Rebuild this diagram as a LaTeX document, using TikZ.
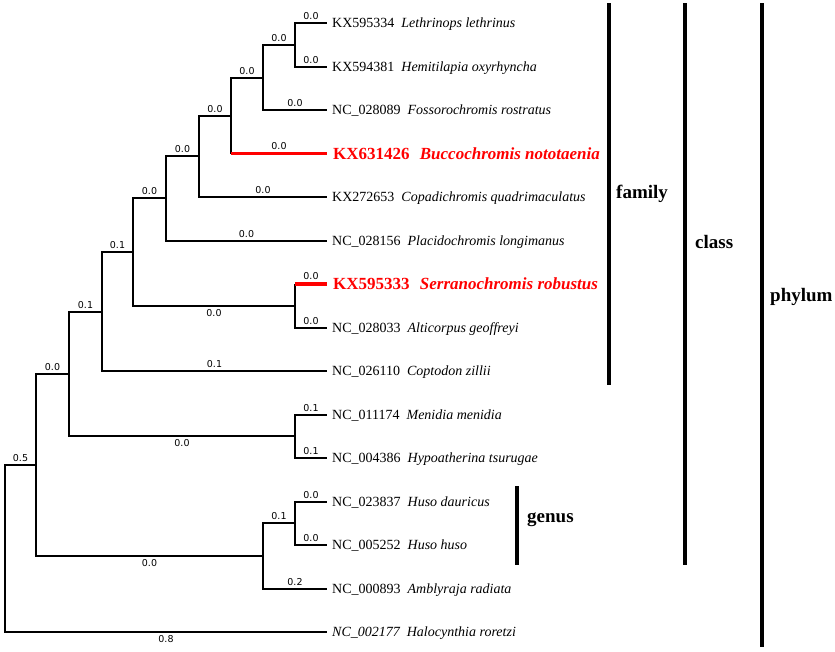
\documentclass[tikz,border=0pt]{standalone}
\usepackage{fontspec}
\setmainfont{Liberation Serif}
\newfontfamily\lenfont{DejaVu Sans}
\usepackage{tikz}

\begin{document}
\begin{tikzpicture}[x=1pt,y=-1pt,
	branch/.style={line width=2pt},
	hot/.style={line width=3.8pt,red},
	tip/.style={anchor=west,inner xsep=5pt,inner ysep=0pt,font=\fontsize{14}{16}\selectfont,text height=9.3pt,text depth=0pt},
	hottip/.style={tip,inner xsep=6pt,text=red,font=\fontsize{17}{20}\selectfont\bfseries,text height=11.3pt},
	len/.style={font=\lenfont\fontsize{9.5}{11}\selectfont,inner sep=2pt},
	bar/.style={line width=3.8pt},
	rank/.style={anchor=west,inner sep=0pt,font=\fontsize{19}{22}\selectfont\bfseries}]
	\useasboundingbox (0,0) rectangle (835,651);

	% tips
	\node[tip] (t_1) at (327,23) {KX595334\hspace{.5em}\textit{Lethrinops lethrinus}};
	\node[tip] (t_2) at (327,67) {KX594381\hspace{.5em}\textit{Hemitilapia oxyrhyncha}};
	\node[tip] (t_3) at (327,110) {NC\_028089\hspace{.5em}\textit{Fossorochromis rostratus}};
	\node[hottip] (t_4) at (327,153.5) {KX631426\hspace{.6em}\textit{Buccochromis nototaenia}};
	\node[tip] (t_5) at (327,197) {KX272653\hspace{.5em}\textit{Copadichromis quadrimaculatus}};
	\node[tip] (t_6) at (327,240.5) {NC\_028156\hspace{.5em}\textit{Placidochromis longimanus}};
	\node[hottip] (t_7) at (327,284) {KX595333\hspace{.6em}\textit{Serranochromis robustus}};
	\node[tip] (t_8) at (327,327.5) {NC\_028033\hspace{.5em}\textit{Alticorpus geoffreyi}};
	\node[tip] (t_9) at (327,371) {NC\_026110\hspace{.5em}\textit{Coptodon zillii}};
	\node[tip] (t_10) at (327,414.5) {NC\_011174\hspace{.5em}\textit{Menidia menidia}};
	\node[tip] (t_11) at (327,458) {NC\_004386\hspace{.5em}\textit{Hypoatherina tsurugae}};
	\node[tip] (t_12) at (327,501.5) {NC\_023837\hspace{.5em}\textit{Huso dauricus}};
	\node[tip] (t_13) at (327,545) {NC\_005252\hspace{.5em}\textit{Huso huso}};
	\node[tip] (t_14) at (327,588.5) {NC\_000893\hspace{.5em}\textit{Amblyraja radiata}};
	\node[tip] (t_15) at (327,632) {\textit{NC\_002177\hspace{.5em}Halocynthia roretzi}};

	% inner nodes
	\coordinate (n_1) at (295,45);
	\coordinate (n_2) at (263,77.5);
	\coordinate (n_3) at (231,115.5);
	\coordinate (n_4) at (199,156);
	\coordinate (n_5) at (166,198);
	\coordinate (n_6) at (295,306);
	\coordinate (n_7) at (133,252);
	\coordinate (n_8) at (102,311.5);
	\coordinate (n_9) at (295,436);
	\coordinate (n_10) at (69,374);
	\coordinate (n_11) at (295,523);
	\coordinate (n_12) at (263,556);
	\coordinate (n_13) at (36,465);
	\coordinate (root) at (5,548.5);

	% branches
	\draw[branch] (n_1) |- (t_1) node[len,above,pos=.75] {0.0};
	\draw[branch] (n_1) |- (t_2) node[len,above,pos=.75] {0.0};
	\draw[branch] (n_2) |- (n_1) node[len,above,pos=.75] {0.0};
	\draw[branch] (n_2) |- (t_3) node[len,above,pos=.75] {0.0};
	\draw[branch] (n_3) |- (n_2) node[len,above,pos=.75] {0.0};
	\draw[branch] (n_3) -- (n_3 |- t_4);
	\draw[hot] (n_3 |- t_4) -- (t_4) node[len,above,midway,text=black] {0.0};
	\draw[branch] (n_4) |- (n_3) node[len,above,pos=.75] {0.0};
	\draw[branch] (n_4) |- (t_5) node[len,above,pos=.75] {0.0};
	\draw[branch] (n_5) |- (n_4) node[len,above,pos=.75] {0.0};
	\draw[branch] (n_5) |- (t_6) node[len,above,pos=.75] {0.0};
	\draw[branch] (n_6) -- (n_6 |- t_7);
	\draw[hot] (n_6 |- t_7) -- (t_7) node[len,above,midway,text=black] {0.0};
	\draw[branch] (n_6) |- (t_8) node[len,above,pos=.75] {0.0};
	\draw[branch] (n_7) |- (n_5) node[len,above,pos=.75] {0.0};
	\draw[branch] (n_7) |- (n_6) node[len,below,pos=.75] {0.0};
	\draw[branch] (n_8) |- (n_7) node[len,above,pos=.75] {0.1};
	\draw[branch] (n_8) |- (t_9) node[len,above,pos=.75] {0.1};
	\draw[branch] (n_9) |- (t_10) node[len,above,pos=.75] {0.1};
	\draw[branch] (n_9) |- (t_11) node[len,above,pos=.75] {0.1};
	\draw[branch] (n_10) |- (n_8) node[len,above,pos=.75] {0.1};
	\draw[branch] (n_10) |- (n_9) node[len,below,pos=.75] {0.0};
	\draw[branch] (n_11) |- (t_12) node[len,above,pos=.75] {0.0};
	\draw[branch] (n_11) |- (t_13) node[len,above,pos=.75] {0.0};
	\draw[branch] (n_12) |- (n_11) node[len,above,pos=.75] {0.1};
	\draw[branch] (n_12) |- (t_14) node[len,above,pos=.75] {0.2};
	\draw[branch] (n_13) |- (n_10) node[len,above,pos=.75] {0.0};
	\draw[branch] (n_13) |- (n_12) node[len,below,pos=.75] {0.0};
	\draw[branch] (root) |- (n_13) node[len,above,pos=.75] {0.5};
	\draw[branch] (root) |- (t_15) node[len,below,pos=.75] {0.8};

	% ranks
	\coordinate (genus_top) at (517,486);
	\coordinate (genus_bot) at (517,565);
	\coordinate (family_top) at (609,3);
	\coordinate (family_bot) at (609,385);
	\coordinate (class_top) at (685,3);
	\coordinate (class_bot) at (685,565);
	\coordinate (phylum_top) at (762,3);
	\coordinate (phylum_bot) at (762,647);
	\draw[bar] (genus_top) -- (genus_bot);
	\draw[bar] (family_top) -- (family_bot);
	\draw[bar] (class_top) -- (class_bot);
	\draw[bar] (phylum_top) -- (phylum_bot);
	\node[rank] (genus) at (527,520) {genus};
	\node[rank] (family) at (616,194) {family};
	\node[rank] (class) at (695,242) {class};
	\node[rank] (phylum) at (770,297) {phylum};
\end{tikzpicture}
\end{document}
